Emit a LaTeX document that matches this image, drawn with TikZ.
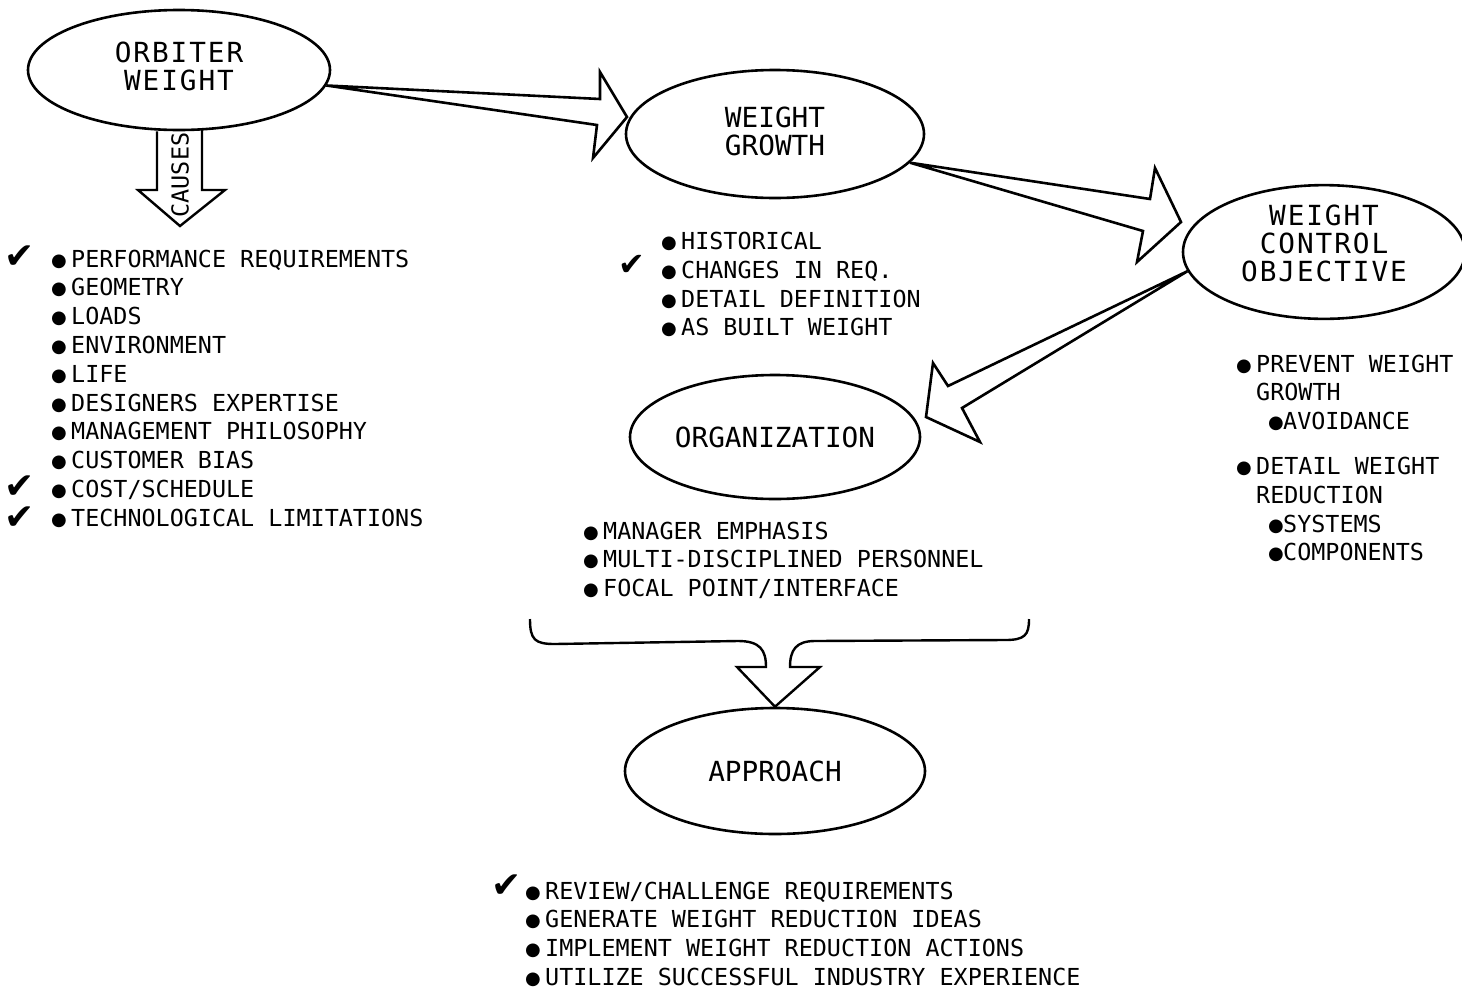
\documentclass[tikz,border=0pt]{standalone}
\usepackage{fontspec}
\usetikzlibrary{shapes.geometric,calc}
\newfontfamily\tw{DejaVu Sans Mono}
\newfontfamily\twsp{DejaVu Sans Mono}[LetterSpace=7]
\newfontfamily\sym{DejaVu Sans}
% bullet glyph in a fixed-width box so the item text lines up
\newcommand\bul{\makebox[20pt][l]{\raisebox{1pt}{\sym\fontsize{18}{18}\selectfont ●}}}
\newcommand\subbul{\makebox[15pt][l]{\raisebox{1pt}{\sym\fontsize{18}{18}\selectfont ●}}}
\tikzset{
  bubble/.style={draw, ellipse, line width=2.6pt, inner sep=0pt, align=center,
    font=\tw\fontsize{27.7}{28}\selectfont},
  hollow/.style={draw, line width=2.6pt, line join=miter, fill=white},
  itemlist/.style={anchor=north west, align=left, inner sep=0pt,
    font=\tw\fontsize{23.4}{28.8}\selectfont},
  tick/.style={inner sep=0pt, align=center, font=\sym\fontsize{36}{31}\selectfont},
  smalltick/.style={inner sep=0pt, font=\sym\fontsize{32}{32}\selectfont},
}
\begin{document}
\begin{tikzpicture}[x=1pt,y=-1pt]
\useasboundingbox[fill=white] (0,0) rectangle (1462,991);

% ---- ellipses (an empty trailing line lifts the text a little) ----
\node[bubble, minimum width=302pt, minimum height=120pt, font=\twsp\fontsize{27.7}{28}\selectfont]
  (orbiter) at (179,70) {ORBITER\\WEIGHT\\[-20pt]\mbox{}};
\node[bubble, minimum width=298pt, minimum height=128pt] (growth) at (775,134) {WEIGHT\\GROWTH\\[-22pt]\mbox{}};
\node[bubble, minimum width=282pt, minimum height=132pt, font=\twsp\fontsize{27.7}{28}\selectfont]
  (control) at (1324,252) {WEIGHT\\CONTROL\\OBJECTIVE\\[-10pt]\mbox{}};
\node[bubble, minimum width=290pt, minimum height=124pt] (organization) at (775,437) {ORGANIZATION};
\node[bubble, minimum width=300pt, minimum height=126pt] (approach) at (775,771) {APPROACH};

% ---- CAUSES arrow below ORBITER WEIGHT ----
\draw[line width=2.4pt, line join=miter]
  ($(orbiter.south)+(-22,0)$) -- (157,190) -- (138,190) -- (180,226) -- (225,190)
  -- (202,190) -- ($(orbiter.south)+(23,-2)$);
\node[rotate=90, inner sep=0pt, font=\tw\fontsize{23.4}{24}\selectfont] (causes) at (180,175) {CAUSES};

% ---- ORBITER WEIGHT -> WEIGHT GROWTH ----
\coordinate (a1st) at (600,99);
\coordinate (a1ht) at (600,72);
\coordinate (a1tip) at (627,117);
\coordinate (a1hb) at (593,158);
\coordinate (a1sb) at (597,125);
\draw[hollow] (orbiter.-6) -- (a1st) -- (a1ht) -- (a1tip) -- (a1hb) -- (a1sb) -- cycle;

% ---- WEIGHT GROWTH -> WEIGHT CONTROL OBJECTIVE ----
\coordinate (a2st) at (1150,199);
\coordinate (a2ht) at (1155,168);
\coordinate (a2tip) at (1181,222);
\coordinate (a2hb) at (1137,262);
\coordinate (a2sb) at (1143,231);
\draw[hollow] (growth.-12) -- (a2st) -- (a2ht) -- (a2tip) -- (a2hb) -- (a2sb) -- cycle;

% ---- WEIGHT CONTROL OBJECTIVE -> ORGANIZATION ----
\coordinate (a3st) at (948,386);
\coordinate (a3ht) at (933,363);
\coordinate (a3tip) at (926,417);
\coordinate (a3hb) at (980,442);
\coordinate (a3sb) at (962,408);
\draw[hollow] (control.188) -- (a3st) -- (a3ht) -- (a3tip) -- (a3hb) -- (a3sb) -- cycle;

% ---- brace gathering into an arrow onto APPROACH ----
\draw[line width=2.4pt, line join=miter]
  (530,619) .. controls (530,640) and (535,644) .. (555,644) -- (738,641)
  .. controls (760,641) and (766,650) .. (766,667) -- (737,667) -- (approach.north)
  -- (820,667) -- (790,667) .. controls (790,650) and (796,641) .. (815,641)
  -- (1005,640) .. controls (1025,640) and (1029,635) .. (1029,619);

% ---- item lists ----
\node[itemlist] (causelist) at (51,249.5) {%
  \bul PERFORMANCE REQUIREMENTS\\
  \bul GEOMETRY\\
  \bul LOADS\\
  \bul ENVIRONMENT\\
  \bul LIFE\\
  \bul DESIGNERS EXPERTISE\\
  \bul MANAGEMENT PHILOSOPHY\\
  \bul CUSTOMER BIAS\\
  \bul COST/SCHEDULE\\
  \bul TECHNOLOGICAL LIMITATIONS};
\node[tick] (t1) at (20,257) {✔};
\node[tick] (t23) at (19.5,503) {✔\\✔};

\node[itemlist] (growthlist) at (661,232) {%
  \bul HISTORICAL\\
  \bul CHANGES IN REQ.\\
  \bul DETAIL DEFINITION\\
  \bul AS BUILT WEIGHT};
\node[smalltick] (t4) at (632,265) {✔};

\node[itemlist] (controllist) at (1236,354.5) {%
  \bul PREVENT WEIGHT\\
  \hspace*{20pt}GROWTH\\
  \hspace*{32pt}\subbul AVOIDANCE\\[16pt]
  \bul DETAIL WEIGHT\\
  \hspace*{20pt}REDUCTION\\
  \hspace*{32pt}\subbul SYSTEMS\\
  \hspace*{32pt}\subbul COMPONENTS};

\node[itemlist] (orglist) at (583,521.5) {%
  \bul MANAGER EMPHASIS\\
  \bul MULTI-DISCIPLINED PERSONNEL\\
  \bul FOCAL POINT/INTERFACE};

\node[itemlist] (approachlist) at (525,881.5) {%
  \bul REVIEW/CHALLENGE REQUIREMENTS\\
  \bul GENERATE WEIGHT REDUCTION IDEAS\\
  \bul IMPLEMENT WEIGHT REDUCTION ACTIONS\\
  \bul UTILIZE SUCCESSFUL INDUSTRY EXPERIENCE};
\node[tick] (t5) at (507,886) {✔};
\end{tikzpicture}
\end{document}
